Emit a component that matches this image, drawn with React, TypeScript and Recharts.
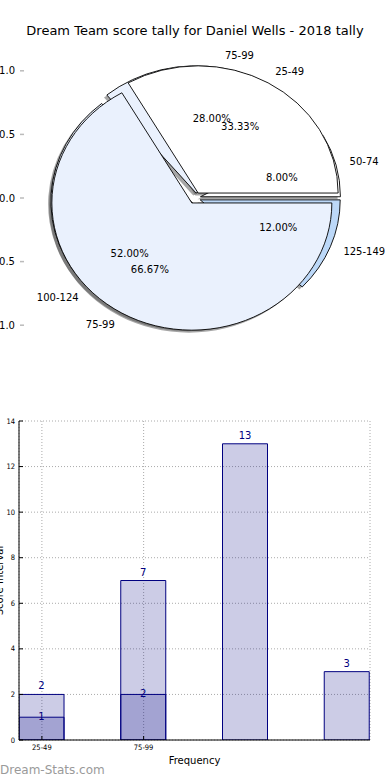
import React from 'react';
import {
  ComposedChart,
  PieChart,
  Pie,
  Cell,
  Bar,
  XAxis,
  YAxis,
  CartesianGrid,
  LabelList,
} from 'recharts';

// ---- data ----
const pieFirstNames = ['25-49', '75-99'];
const pieFirstValues = [1, 2];
const pieSecondNames = ['50-74', '75-99', '100-124', '125-149'];
const pieSecondValues = [2, 7, 13, 3];
const pieAxisTicks = [-1, -0.5, 0, 0.5, 1];

const barCenters = [0, 1, 2, 3];
const barTickNames = ['25-49', '75-99'];
const barFirst = [1, 2];
const barSecond = [2, 7, 13, 3];
const barYTicks = [0, 2, 4, 6, 8, 10, 12, 14];

// ---- styling ----
const firstColors = ['#ffffff', '#eaf1fd'];
const secondColors = ['#ffffff', '#eaf1fd', '#eaf1fd', '#bcd8f8'];
const firstExplode = [0.045, 0.045];
const secondExplode = [0.04, 0.04, 0.04, 0.04];

const FONT = '"DejaVu Sans", sans-serif';
const SMALL_FONT = '"DejaVu Sans Condensed", "DejaVu Sans", sans-serif';
const NAVY = '#000080';

// pie axes box (matplotlib limits +-1.25)
const PLOT = { left: 20, right: 370, top: 39, bottom: 357 };
const LIM = 1.25;
const CX = (PLOT.left + PLOT.right) / 2;
const CY = (PLOT.top + PLOT.bottom) / 2;
const RX = (PLOT.right - PLOT.left) / (2 * LIM);
const RY = (PLOT.bottom - PLOT.top) / (2 * LIM);
const SX = RX / RY;

const firstData = pieFirstNames.map((name, i) => ({ name, value: pieFirstValues[i] }));
const secondData = pieSecondNames.map((name, i) => ({ name, value: pieSecondValues[i] }));
const barData = barCenters.map((x, i) => ({
  x,
  first: barFirst[i] ?? null,
  second: barSecond[i],
}));

// explode + squash every wedge into the ellipse the axes produce
function sliceRules(prefix: string, values: number[], explode: number[], shift = [0, 0]) {
  const total = values.reduce((a, b) => a + b, 0);
  let acc = 0;
  return values
    .map((v, i) => {
      const mid = ((acc + v / 2) / total) * 2 * Math.PI;
      acc += v;
      const dx = explode[i] * RX * Math.cos(mid) + shift[0];
      const dy = -explode[i] * RY * Math.sin(mid) + shift[1];
      return `.${prefix}-${i}{transform:translate(${dx}px,${dy}px) scaleX(${SX});transform-origin:${CX}px ${CY}px;vector-effect:non-scaling-stroke;}`;
    })
    .join('\n');
}

const shadowShift = [-0.02 * RX, 0.02 * RY];
const css = [
  sliceRules('pa', pieFirstValues, firstExplode),
  sliceRules('pb', pieSecondValues, secondExplode),
  sliceRules('sa', pieFirstValues, firstExplode, shadowShift),
  sliceRules('sb', pieSecondValues, secondExplode, shadowShift),
].join('\n');

const makeLabel = (explode: number[]) => (p: any) => {
  const a = (p.midAngle * Math.PI) / 180;
  const e = explode[p.index] ?? 0;
  const c = Math.cos(a);
  const s = Math.sin(a);
  return (
    <g>
      <text
        x={p.cx + (1.1 + e) * RX * c}
        y={p.cy - (1.1 + e) * RY * s}
        dy="0.35em"
        textAnchor={c > 0 ? 'start' : 'end'}
        fontSize={10}
        fontFamily={FONT}
        fill="#000"
      >
        {p.name}
      </text>
      <text
        x={p.cx + (0.6 + e) * RX * c}
        y={p.cy - (0.6 + e) * RY * s}
        dy="0.35em"
        textAnchor="middle"
        fontSize={10}
        fontFamily={FONT}
        fill="#000"
      >
        {(p.percent * 100).toFixed(2)}%
      </text>
    </g>
  );
};

const fmt = (v: number) => v.toFixed(1).replace('-', '\u2212');
const TICK_GREY = '#bbbbbb';

const PieTickBottom = ({ x, y, payload }: any) => (
  <g>
    <line x1={x} x2={x} y1={y - 4} y2={y} stroke={TICK_GREY} strokeWidth={1.5} />
    <text x={x} y={y + 12} textAnchor="middle" fontSize={10} fontFamily={FONT} fill="#000">
      {fmt(payload.value)}
    </text>
  </g>
);
const PieTickTop = ({ x, y }: any) => (
  <line x1={x} x2={x} y1={y} y2={y + 4} stroke={TICK_GREY} strokeWidth={1.5} />
);
const PieTickLeft = ({ x, y, payload }: any) => (
  <g>
    <line x1={x} x2={x + 4} y1={y} y2={y} stroke={TICK_GREY} strokeWidth={1.5} />
    <text x={x - 5} y={y} dy="0.35em" textAnchor="end" fontSize={10} fontFamily={FONT} fill="#000">
      {fmt(payload.value)}
    </text>
  </g>
);
const PieTickRight = ({ x, y }: any) => (
  <line x1={x - 4} x2={x} y1={y} y2={y} stroke={TICK_GREY} strokeWidth={1.5} />
);

const BarTickBottom = ({ x, y, payload }: any) => (
  <g>
    <line x1={x} x2={x} y1={y - 4} y2={y} stroke="#000" />
    <text x={x} y={y + 10} textAnchor="middle" fontSize={7.5} fontFamily={SMALL_FONT} fill="#000">
      {barTickNames[barCenters.indexOf(payload.value)]}
    </text>
  </g>
);
const BarTickTop = ({ x, y }: any) => <line x1={x} x2={x} y1={y} y2={y + 4} stroke="#000" />;
const BarTickLeft = ({ x, y, payload }: any) => (
  <g>
    <line x1={x} x2={x + 4} y1={y} y2={y} stroke="#000" />
    <text x={x - 4} y={y} dy="0.35em" textAnchor="end" fontSize={7.5} fontFamily={SMALL_FONT} fill="#000">
      {payload.value}
    </text>
  </g>
);
const BarTickRight = ({ x, y }: any) => <line x1={x - 4} x2={x} y1={y} y2={y} stroke="#000" />;

const YLabel = (props: any) => {
  const vb = props.viewBox;
  return (
    <text
      transform={`translate(${vb.x + 3}, ${vb.y + vb.height / 2}) rotate(-90)`}
      textAnchor="middle"
      fontSize={10}
      fontFamily={FONT}
      fill="#000"
    >
      Score Interval
    </text>
  );
};

export default function App() {
  return (
    <div style={{ position: 'absolute', left: 0, top: 0, width: 390, height: 780, background: '#fff', overflow: 'hidden' }}>
      <style>{css}</style>

      <div
        style={{
          position: 'absolute',
          left: 0,
          top: 23,
          width: 390,
          textAlign: 'center',
          fontFamily: FONT,
          fontSize: 13,
          lineHeight: '15px',
          color: '#000',
        }}
      >
        Dream Team score tally for Daniel Wells - 2018 tally
      </div>

      {/* axes of the pie */}
      <div style={{ position: 'absolute', left: 0, top: 0 }}>
        <ComposedChart width={390} height={400} data={[]} margin={{ top: PLOT.top, right: 390 - PLOT.right, bottom: 0, left: 0 }}>
          <XAxis
            xAxisId="b"
            type="number"
            domain={[-LIM, LIM]}
            ticks={pieAxisTicks}
            allowDataOverflow
            interval={0}
            height={400 - PLOT.bottom}
            axisLine={false}
            tickLine={false}
            tickSize={0}
            tickMargin={0}
            tick={<PieTickBottom />}
          />
          <XAxis
            xAxisId="t"
            orientation="top"
            type="number"
            domain={[-LIM, LIM]}
            ticks={pieAxisTicks}
            allowDataOverflow
            interval={0}
            height={0}
            axisLine={false}
            tickLine={false}
            tickSize={0}
            tickMargin={0}
            tick={<PieTickTop />}
          />
          <YAxis
            yAxisId="l"
            type="number"
            domain={[-LIM, LIM]}
            ticks={pieAxisTicks}
            allowDataOverflow
            interval={0}
            width={PLOT.left}
            axisLine={false}
            tickLine={false}
            tickSize={0}
            tickMargin={0}
            tick={<PieTickLeft />}
          />
          <YAxis
            yAxisId="r"
            orientation="right"
            type="number"
            domain={[-LIM, LIM]}
            ticks={pieAxisTicks}
            allowDataOverflow
            interval={0}
            width={0}
            axisLine={false}
            tickLine={false}
            tickSize={0}
            tickMargin={0}
            tick={<PieTickRight />}
          />
        </ComposedChart>
      </div>

      {/* the two pies: shadows first, then wedges */}
      <div style={{ position: 'absolute', left: 0, top: 0 }}>
        <PieChart width={390} height={400} margin={{ top: 0, right: 0, bottom: 0, left: 0 }}>
          <Pie
            data={secondData}
            dataKey="value"
            nameKey="name"
            cx={CX}
            cy={CY}
            outerRadius={RY}
            startAngle={0}
            endAngle={360}
            stroke="none"
            label={false}
            labelLine={false}
            isAnimationActive={false}
          >
            {secondData.map((d, i) => (
              <Cell key={d.name + i} fill="#4d4d4d" fillOpacity={0.5} className={`sb-${i}`} />
            ))}
          </Pie>
          <Pie
            data={firstData}
            dataKey="value"
            nameKey="name"
            cx={CX}
            cy={CY}
            outerRadius={RY}
            startAngle={0}
            endAngle={360}
            stroke="none"
            label={false}
            labelLine={false}
            isAnimationActive={false}
          >
            {firstData.map((d, i) => (
              <Cell key={d.name + i} fill="#4d4d4d" fillOpacity={0.5} className={`sa-${i}`} />
            ))}
          </Pie>
          <Pie
            data={secondData}
            dataKey="value"
            nameKey="name"
            cx={CX}
            cy={CY}
            outerRadius={RY}
            startAngle={0}
            endAngle={360}
            stroke="#000"
            strokeWidth={0.9}
            label={makeLabel(secondExplode)}
            labelLine={false}
            isAnimationActive={false}
          >
            {secondData.map((d, i) => (
              <Cell key={d.name + i} fill={secondColors[i]} className={`pb-${i}`} />
            ))}
          </Pie>
          <Pie
            data={firstData}
            dataKey="value"
            nameKey="name"
            cx={CX}
            cy={CY}
            outerRadius={RY}
            startAngle={0}
            endAngle={360}
            stroke="#000"
            strokeWidth={0.9}
            label={makeLabel(firstExplode)}
            labelLine={false}
            isAnimationActive={false}
          >
            {firstData.map((d, i) => (
              <Cell key={d.name + i} fill={firstColors[i]} className={`pa-${i}`} />
            ))}
          </Pie>
        </PieChart>
      </div>

      {/* bars: the two series overlap on twin x axes */}
      <div style={{ position: 'absolute', left: 0, top: 400 }}>
        <ComposedChart width={390} height={380} data={barData} margin={{ top: 21, right: 20, bottom: 0, left: 0 }}>
          <CartesianGrid stroke="#aaaaaa" strokeDasharray="1 2" />
          <XAxis
            dataKey="x"
            type="number"
            domain={[-0.225, 3.225]}
            ticks={barCenters.slice(0, barTickNames.length)}
            allowDataOverflow
            interval={0}
            height={40}
            axisLine={{ stroke: '#000' }}
            tickLine={false}
            tickSize={0}
            tickMargin={0}
            tick={<BarTickBottom />}
            label={{ value: 'Frequency', position: 'insideBottom', offset: 16, fill: '#000', fontSize: 10, fontFamily: FONT }}
          />
          <XAxis xAxisId="b" dataKey="x" type="number" domain={[-0.225, 3.225]} ticks={barCenters} allowDataOverflow hide />
          <XAxis
            xAxisId="top"
            orientation="top"
            dataKey="x"
            type="number"
            domain={[-0.225, 3.225]}
            ticks={barCenters.slice(0, barTickNames.length)}
            allowDataOverflow
            height={0}
            axisLine={{ stroke: '#000' }}
            tickLine={false}
            tickSize={0}
            tickMargin={0}
            tick={<BarTickTop />}
          />
          <YAxis
            type="number"
            domain={[0, 14]}
            ticks={barYTicks}
            allowDataOverflow
            interval={0}
            width={19}
            axisLine={{ stroke: '#000' }}
            tickLine={false}
            tickSize={0}
            tickMargin={0}
            tick={<BarTickLeft />}
            label={<YLabel />}
          />
          <YAxis
            yAxisId="r"
            orientation="right"
            type="number"
            domain={[0, 14]}
            ticks={barYTicks}
            allowDataOverflow
            interval={0}
            width={0}
            axisLine={{ stroke: '#000' }}
            tickLine={false}
            tickSize={0}
            tickMargin={0}
            tick={<BarTickRight />}
          />
          <Bar
            dataKey="first"
            barSize={45}
            fill={NAVY}
            fillOpacity={0.2}
            stroke={NAVY}
            strokeWidth={1}
            isAnimationActive={false}
          >
            <LabelList dataKey="first" position="top" offset={-3} fill={NAVY} fontSize={10} fontFamily={FONT} />
          </Bar>
          <Bar
            xAxisId="b"
            dataKey="second"
            barSize={45}
            fill={NAVY}
            fillOpacity={0.2}
            stroke={NAVY}
            strokeWidth={1}
            isAnimationActive={false}
          >
            <LabelList dataKey="second" position="top" offset={5} fill={NAVY} fontSize={10} fontFamily={FONT} />
          </Bar>
        </ComposedChart>
      </div>

      <div
        style={{
          position: 'absolute',
          left: 0,
          top: 764,
          fontFamily: FONT,
          fontSize: 12,
          lineHeight: '12px',
          color: '#9a9a9a',
        }}
      >
        Dream-Stats.com
      </div>
    </div>
  );
}
